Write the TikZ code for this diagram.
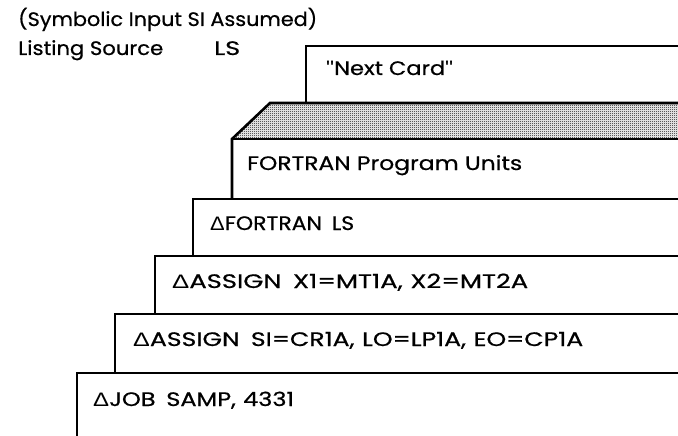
\documentclass[tikz,border=0pt]{standalone}
\usepackage{fontspec}
\usepackage{graphicx}
\setmainfont{Poppins}[FakeBold=0.6]
\newfontfamily\deltafont{Liberation Sans}
\usetikzlibrary{patterns}
\pgfdeclarepatternformonly{halftone}{\pgfqpoint{0pt}{0pt}}{\pgfqpoint{2pt}{2pt}}{\pgfqpoint{2pt}{2pt}}{%
  \pgfpathrectangle{\pgfqpoint{0pt}{0pt}}{\pgfqpoint{1pt}{1pt}}%
  \pgfpathrectangle{\pgfqpoint{1pt}{1pt}}{\pgfqpoint{1pt}{1pt}}%
  \pgfusepath{fill}}
\newcommand{\dlt}{{\deltafont\symbol{"0394}}}
\newcommand{\qt}{{\deltafont\symbol{34}}}
\newcommand{\fitw}[2]{\resizebox{#1pt}{\height}{#2}}
\newcommand{\gapw}{\hspace{0.45em}}
\newcommand{\gapc}{\hspace{0.3em}}
\begin{document}
\begin{tikzpicture}[x=1pt,y=-1pt,
  card/.style={line width=2.6pt, line join=miter},
  shade/.style={pattern=halftone, pattern color=black},
  lbl/.style={anchor=base west, inner sep=0pt, font=\fontsize{19.5}{23}\selectfont}]
\useasboundingbox (0,0) rectangle (678,436);
\clip (0,0) rectangle (678,436);
% header
\node[lbl] (hdr1) at (18,26) {\fitw{299}{(Symbolic Input SI Assumed)}};
\node[lbl] (hdr2) at (18,55) {\fitw{145}{Listing Source}};
\node[lbl] (hdr3) at (214,55) {\fitw{26}{LS}};
% next card
\draw[card] (306,103) -- (306,46) -- (690,46);
\node[lbl] (next) at (326,75) {\fitw{127}{\qt Next Card\qt}};
% shaded top of program units deck
\fill[shade] (270,103) -- (690,103) -- (690,139) -- (232,139) -- cycle;
\draw[card] (232,199) -- (232,139) -- (270,103) -- (690,103);
\draw[card] (232,139) -- (690,139);
\node[lbl] (prog) at (247,170) {\fitw{275}{FORTRAN Program Units}};
% FORTRAN LS
\draw[card] (193,256) -- (193,199) -- (690,199);
\node[lbl] (fort) at (210,230) {\fitw{144}{\dlt FORTRAN\gapw LS}};
% ASSIGN X1
\draw[card] (155,314) -- (155,256) -- (690,256);
\node[lbl] (asg1) at (172,288) {\fitw{356}{\dlt ASSIGN\gapw X1=MT1A,\gapc X2=MT2A}};
% ASSIGN SI
\draw[card] (115,373) -- (115,314) -- (690,314);
\node[lbl] (asg2) at (133,346) {\fitw{450}{\dlt ASSIGN\gapw SI=CR1A,\gapc LO=LP1A,\gapc EO=CP1A}};
% JOB
\draw[card] (77,445) -- (77,373) -- (690,373);
\node[lbl] (job) at (93,406) {\fitw{201}{\dlt JOB\gapw SAMP,\gapc 4331}};
\end{tikzpicture}
\end{document}
